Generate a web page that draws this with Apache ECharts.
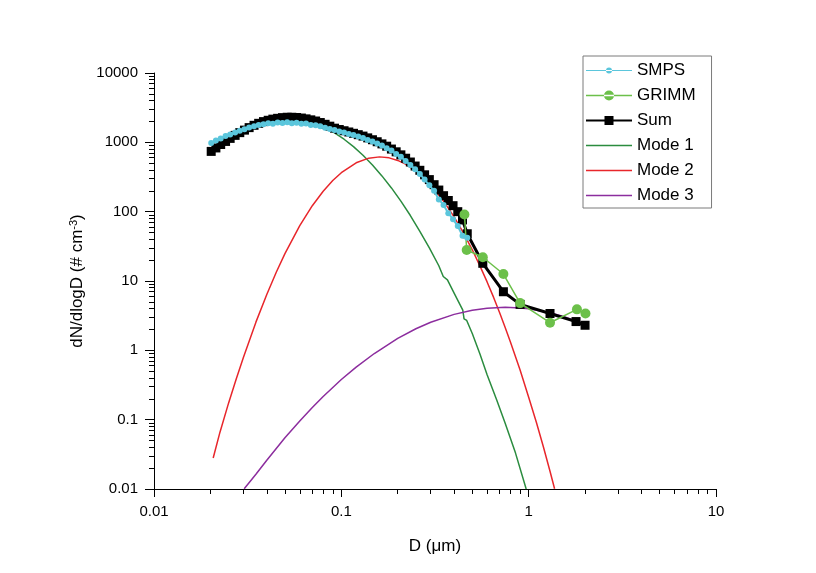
<!DOCTYPE html>
<html><head><meta charset="utf-8">
<script src="https://cdn.jsdelivr.net/npm/echarts@6/dist/echarts.min.js"></script>
<style>html,body{margin:0;padding:0;background:#fff}#c{width:816px;height:573px}</style>
</head><body><div id="c"></div>
<script>
// ---- data ----
const smpsD = [0.0202,0.0214,0.0227,0.0241,0.0255,0.0271,0.0287,0.0304,0.0322,0.0342,
  0.0362,0.0384,0.0407,0.0431,0.0457,0.0485,0.0514,0.0544,0.0577,0.0612,
  0.0648,0.0687,0.0729,0.0772,0.0819,0.0868,0.0920,0.0975,0.1034,0.1096,
  0.1161,0.1231,0.1305,0.1383,0.1466,0.1554,0.1647,0.1746,0.1851,0.1962,
  0.2079,0.2204,0.2336,0.2477,0.2625,0.2783,0.2950,0.3127,0.3314,0.3513,
  0.3724,0.3947,0.4184,0.4435,0.4701];
const smpsN = [980,1060,1140,1230,1300,1390,1470,1550,1640,1700,
  1780,1830,1880,1860,1930,1900,1950,1880,1920,1850,
  1870,1780,1760,1700,1620,1560,1500,1430,1390,1320,
  1280,1210,1150,1080,1030,960,900,820,760,680,
  620,540,470,410,350,290,240,200,150,125,
  95,78,62,45,42];
const sumD = [0.0202,0.0214,0.0227,0.0241,0.0255,0.0271,0.0287,0.0304,0.0322,0.0342,
  0.0362,0.0384,0.0407,0.0431,0.0457,0.0485,0.0514,0.0544,0.0577,0.0612,
  0.0648,0.0687,0.0729,0.0772,0.0819,0.0868,0.0920,0.0975,0.1034,0.1096,
  0.1161,0.1231,0.1305,0.1383,0.1466,0.1554,0.1647,0.1746,0.1851,0.1962,
  0.2079,0.2204,0.2336,0.2477,0.2625,0.2783,0.2950,0.3127,0.3314,0.3513,
  0.3724,0.3947,0.4184,0.4435,0.4701,
  0.569,0.733,0.90,1.30,1.79,2.0];
const sumN = [740,830,930,1030,1140,1260,1380,1500,1630,1760,
  1880,1990,2080,2160,2220,2270,2300,2300,2280,2240,
  2180,2110,2030,1930,1820,1710,1600,1530,1470,1410,
  1350,1290,1230,1160,1090,1020,950,880,800,730,
  660,590,520,455,395,340,290,245,205,170,
  145,122,100,76,48,
  18,7.0,4.6,3.4,2.6,2.3];
const grimmD = [0.454,0.467,0.569,0.733,0.90,1.30,1.81,2.01];
const grimmN = [91,28,22,12.6,4.8,2.5,3.9,3.4];
const mode1D = [0.0202,0.0227,0.0255,0.0287,0.0322,0.0362,0.0407,0.0457,0.0514,0.0577,
  0.0648,0.0729,0.0819,0.0920,0.1034,0.1161,0.1305,0.1466,0.1647,0.1851,
  0.2079,0.2336,0.2625,0.2950,0.3314,0.350,0.3685,0.40,0.445,0.449,
  0.452,0.467,0.5,0.55,0.6,0.676,0.75,0.85,0.97];
const mode1N = [680,860,1080,1312,1565,1800,1990,2118,2170,2140,
  2020,1840,1620,1365,1109,867,651,472,328,220,
  142,88,52,30,16.6,11.6,10.4,6.7,3.8,3.6,
  2.85,2.7,1.75,0.88,0.445,0.19,0.0877,0.0332,0.0100];
const mode2D = [0.0207,0.0225,0.025,0.0275,0.03,0.035,0.04,0.045,0.05,0.06,
  0.07,0.08,0.09,0.1,0.12,0.14,0.16,0.18,0.2,0.22,
  0.25,0.3,0.35,0.4,0.45,0.5,0.55,0.6,0.65,0.7,
  0.75,0.8,0.9,1.0,1.1,1.2,1.3,1.375];
const mode2N = [0.028,0.066,0.173,0.39,0.79,2.55,6.4,13.5,24.8,62.7,
  122,197,281,365,507,591,617,597,548,484,
  384,241,144,84,48.6,28.2,16.4,9.7,5.8,3.48,
  2.12,1.31,0.52,0.21,0.091,0.040,0.018,0.0101];
const mode3D = [0.0303,0.035,0.04,0.05,0.06,0.07,0.08,0.1,0.12,0.15,
  0.2,0.25,0.3,0.4,0.5,0.6,0.75,0.9,1.0,1.3,1.5,1.79,2.0];
const mode3N = [0.0101,0.0163,0.026,0.055,0.096,0.150,0.216,0.38,0.573,0.90,
  1.49,2.05,2.54,3.30,3.78,4.05,4.17,4.09,3.97,3.48,3.14,2.67,2.37];

const xTickVals = [0.01,0.1,1,10];
const xTickLabels = ['0.01','0.1','1','10'];
const yTickVals = [0.01,0.1,1,10,100,1000,10000];
const yTickLabels = ['0.01','0.1','1','10','100','1000','10000'];

// ---- build ----
function pairs(xs, ys){ return xs.map((x,i)=>[x, ys[i]]); }
function minorTicks(lo, hi){
  const out=[];
  for(let e=lo;e<hi;e++){ for(let m=2;m<=9;m++){ out.push(+(m*Math.pow(10,e)).toPrecision(3)); } }
  return out;
}
function labelFor(vals, labels){
  return function(v){
    let best=0, bd=Infinity;
    vals.forEach((t,i)=>{ const d=Math.abs(Math.log10(t)-Math.log10(v)); if(d<bd){bd=d;best=i;} });
    return labels[best];
  };
}
const FONT = 'Liberation Sans, Arial, Helvetica, sans-serif';
const C = {smps:'#5bc6dc', grimm:'#6cc04a', sum:'#000000', m1:'#2b8c3f', m2:'#e8262b', m3:'#8c2d9e'};

const chart = echarts.init(document.getElementById('c'), null, {renderer:'canvas'});
const axisCommon = {
  axisLine:{show:true, lineStyle:{color:'#000', width:1}},
  splitLine:{show:false}, minorSplitLine:{show:false}
};
chart.setOption({
  animation:false,
  backgroundColor:'#fff',
  grid:{left:154, right:100, top:73, bottom:84, containLabel:false},
  xAxis:[
    Object.assign({}, axisCommon, {
      type:'log', logBase:10, min:0.01, max:10, position:'bottom',
      axisTick:{show:true, customValues:xTickVals, length:8, inside:false, lineStyle:{color:'#000'}},
      axisLabel:{show:true, customValues:xTickVals, formatter:labelFor(xTickVals,xTickLabels), margin:15, color:'#000', fontSize:15, fontFamily:FONT},
      name:'D (μm)', nameLocation:'middle', nameGap:49,
      nameTextStyle:{color:'#000', fontSize:17, fontFamily:FONT}
    }),
    {
      type:'log', logBase:10, min:0.01, max:10, position:'bottom', gridIndex:0,
      axisLine:{show:false}, axisLabel:{show:false}, splitLine:{show:false},
      axisTick:{show:true, customValues:minorTicks(-2,1), length:5, inside:false, lineStyle:{color:'#000'}}
    }
  ],
  yAxis:[
    Object.assign({}, axisCommon, {
      type:'log', logBase:10, min:0.01, max:10000, position:'left',
      axisTick:{show:true, customValues:yTickVals, length:9, inside:false, lineStyle:{color:'#000'}},
      axisLabel:{show:true, customValues:yTickVals, formatter:labelFor(yTickVals,yTickLabels), margin:16, color:'#000', fontSize:15, fontFamily:FONT},
      name:'{a|dN/dlogD (# cm}{s|-3}{a|)}', nameLocation:'middle', nameGap:67,
      nameTextStyle:{color:'#000', fontSize:17, fontFamily:FONT,
        rich:{a:{fontSize:17, fontFamily:FONT, color:'#000'}, s:{fontSize:11, fontFamily:FONT, color:'#000', verticalAlign:'top', padding:[0,0,6,0]}}}
    }),
    {
      type:'log', logBase:10, min:0.01, max:10000, position:'left', gridIndex:0,
      axisLine:{show:false}, axisLabel:{show:false}, splitLine:{show:false},
      axisTick:{show:true, customValues:minorTicks(-2,4), length:5, inside:false, lineStyle:{color:'#000'}}
    }
  ],
  legend:{
    orient:'vertical', left:583, top:56, padding:[6,16,4,3],
    itemWidth:46, itemHeight:17, itemGap:8,
    borderColor:'#7a7a7a', borderWidth:1, backgroundColor:'#fff',
    textStyle:{fontSize:17, color:'#000', fontFamily:FONT},
    itemStyle:{borderWidth:0},
    data:[
      {name:'SMPS', icon:'path://M0,2.5H46V3.5H0Z M20,3A3,3 0 1 0 26,3A3,3 0 1 0 20,3Z'},
      {name:'GRIMM', icon:'path://M0,4.25H46V5.75H0Z M18,5A5,5 0 1 0 28,5A5,5 0 1 0 18,5Z'},
      {name:'Sum', icon:'path://M0,3.5H46V5.5H0Z M18.5,0H27.5V9H18.5Z'},
      {name:'Mode 1', icon:'path://M0,0H46V1.5H0Z'},
      {name:'Mode 2', icon:'path://M0,0H46V1.5H0Z'},
      {name:'Mode 3', icon:'path://M0,0H46V1.5H0Z'}
    ]
  },
  series:[
    {name:'Mode 1', type:'line', data:pairs(mode1D,mode1N), symbol:'none', color:C.m1, lineStyle:{color:C.m1, width:1.5}, z:2},
    {name:'Mode 2', type:'line', data:pairs(mode2D,mode2N), symbol:'none', color:C.m2, lineStyle:{color:C.m2, width:1.5}, z:2},
    {name:'Mode 3', type:'line', data:pairs(mode3D,mode3N), symbol:'none', color:C.m3, lineStyle:{color:C.m3, width:1.5}, z:2},
    {name:'Sum', type:'line', data:pairs(sumD,sumN), symbol:'rect', symbolSize:9, showAllSymbol:true, color:C.sum,
      itemStyle:{color:C.sum, borderWidth:0}, lineStyle:{color:C.sum, width:3}, z:3},
    {name:'GRIMM', type:'line', data:pairs(grimmD,grimmN), symbol:'circle', symbolSize:10, showAllSymbol:true, color:C.grimm,
      itemStyle:{color:C.grimm, borderWidth:0}, lineStyle:{color:C.grimm, width:1.5}, z:4},
    {name:'SMPS', type:'line', data:pairs(smpsD,smpsN), symbol:'circle', symbolSize:6, showAllSymbol:true, color:C.smps,
      itemStyle:{color:C.smps, borderWidth:0}, lineStyle:{color:C.smps, width:2}, z:5}
  ]
});
</script>
</body></html>
